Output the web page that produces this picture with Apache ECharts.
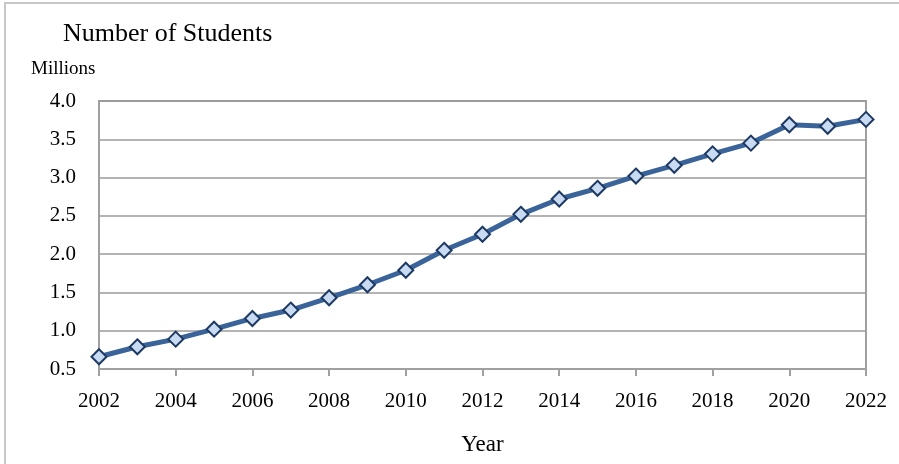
<!DOCTYPE html>
<html>
<head>
<meta charset="utf-8">
<script src="https://cdn.jsdelivr.net/npm/echarts@6/dist/echarts.min.js"></script>
<style>
html, body { margin: 0; padding: 0; background: #fff; }
#main { width: 899px; height: 464px; }
</style>
</head>
<body>
<div id="main"></div>
<script>
var years = [2002, 2003, 2004, 2005, 2006, 2007, 2008, 2009, 2010, 2011, 2012,
             2013, 2014, 2015, 2016, 2017, 2018, 2019, 2020, 2021, 2022];
var students = [0.66, 0.79, 0.89, 1.02, 1.16, 1.27, 1.43, 1.60, 1.79, 2.05, 2.26,
                2.52, 2.72, 2.86, 3.02, 3.16, 3.31, 3.45, 3.69, 3.67, 3.76];

var myChart = echarts.init(document.getElementById('main'));
var serif = '"Liberation Serif", "DejaVu Serif", serif';

var pts = years.map(function(y, i){ return [y, students[i]]; });

var option = {
    animation: false,
    backgroundColor: '#fff',
    textStyle: { fontFamily: serif },
    graphic: [
        {
            type: 'rect',
            shape: { x: 5, y: 3, width: 900, height: 470 },
            style: { fill: 'none', stroke: '#c8c8c8', lineWidth: 2 }
        },
        {
            type: 'text', left: 63, top: 21,
            style: { text: 'Number of Students', font: '26px ' + serif, fill: '#000' }
        },
        {
            type: 'text', left: 31, top: 60,
            style: { text: 'Millions', font: '19px ' + serif, fill: '#000' }
        }
    ],
    grid: { left: 99, right: 33, top: 101, bottom: 95, show: true, borderColor: '#a0a0a0', borderWidth: 2 },
    xAxis: {
        type: 'value',
        min: 2002, max: 2022, interval: 2,
        name: 'Year',
        nameLocation: 'middle',
        nameGap: 64,
        nameTextStyle: { fontSize: 23, color: '#000', fontFamily: serif },
        axisLine: { lineStyle: { color: '#a0a0a0', width: 2 } },
        axisTick: { show: true, length: 7, lineStyle: { color: '#a0a0a0', width: 2 } },
        axisLabel: {
            color: '#000', fontSize: 21, margin: 22, fontFamily: serif,
            formatter: function(v){ return String(v); }
        },
        splitLine: { show: false }
    },
    yAxis: {
        type: 'value',
        min: 0.5, max: 4.0, interval: 0.5,
        axisLine: { show: true, lineStyle: { color: '#a0a0a0', width: 2 } },
        axisTick: { show: false },
        axisLabel: {
            color: '#000', fontSize: 21, margin: 23, fontFamily: serif,
            formatter: function(v){ return v.toFixed(1); }
        },
        splitLine: { lineStyle: { color: '#9a9a9a', width: 1.5 } }
    },
    series: [{
        type: 'line',
        data: pts,
        symbol: 'diamond',
        symbolSize: 15,
        lineStyle: { color: '#3a6499', width: 5 },
        itemStyle: { color: '#c8dbf3', borderColor: '#1e3a63', borderWidth: 2 }
    }]
};
myChart.setOption(option);
</script>
</body>
</html>
